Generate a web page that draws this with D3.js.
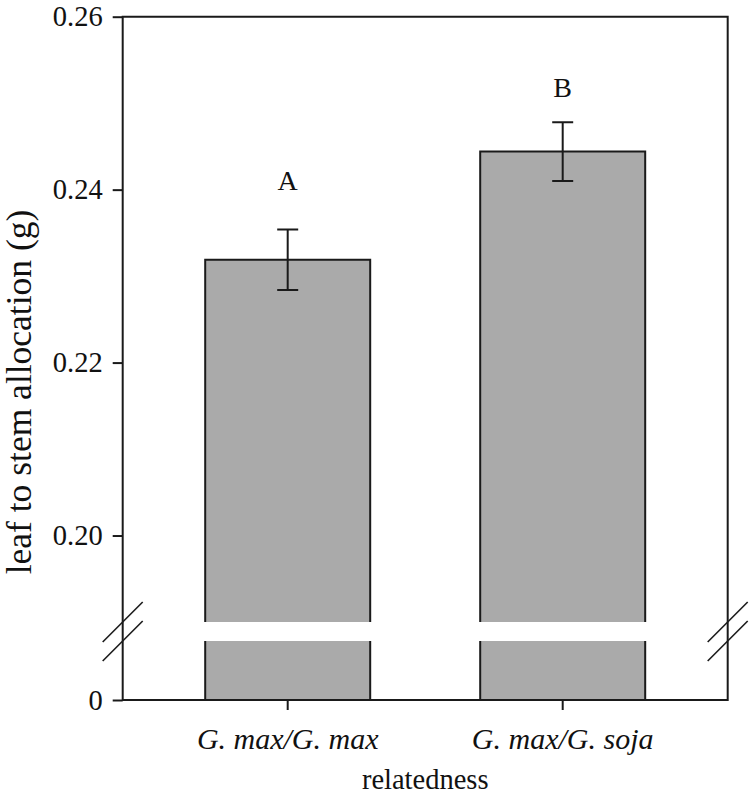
<!DOCTYPE html>
<html><head><meta charset="utf-8">
<script src="https://cdn.jsdelivr.net/npm/d3@7"></script>
<style>body{margin:0;background:#fff}svg{display:block}text{font-family:"Liberation Serif","Times New Roman",serif;fill:#111}</style>
</head><body>
<svg id="c" width="754" height="798"></svg>
<script>
const categories = ["G. max/G. max", "G. max/G. soja"];
const means = [0.2319, 0.2444];
const errors = [0.0035, 0.0034];
const letters = ["A", "B"];
const letterPos = [0.2400, 0.2507];
const upperTicks = [0.20, 0.22, 0.24, 0.26];
const lowerTicks = [0];
const upperDomain = [0.19, 0.26];
const lowerDomain = [0, 0.007];

const svg = d3.select("#c");
const L = 122.7, R = 727.7, T = 16.7, B = 700;
const breakTop = 622, breakBot = 641;
const ink = "#1a1a1a";

const x = d3.scaleBand().domain(categories).range([L, R]).paddingInner(0.4).paddingOuter(0.3);
const yU = d3.scaleLinear().domain(upperDomain).range([breakTop, T]);
const yL = d3.scaleLinear().domain(lowerDomain).range([B, breakBot]);

// bars
const g = svg.append("g");
categories.forEach((c, i) => {
  const x0 = x(c), w = x.bandwidth();
  g.append("rect").attr("x", x0).attr("y", yU(means[i])).attr("width", w)
    .attr("height", yU(upperDomain[0]) - yU(means[i])).attr("fill", "#aaaaaa");
  g.append("path").attr("d", `M${x0},${yU(upperDomain[0])}V${yU(means[i])}H${x0 + w}V${yU(upperDomain[0])}`)
    .attr("fill", "none").attr("stroke", ink).attr("stroke-width", 2);
  g.append("rect").attr("x", x0).attr("y", yL(lowerDomain[1])).attr("width", w)
    .attr("height", yL(0) - yL(lowerDomain[1])).attr("fill", "#aaaaaa");
  g.append("path").attr("d", `M${x0},${yL(lowerDomain[1])}V${yL(0)}M${x0 + w},${yL(lowerDomain[1])}V${yL(0)}`)
    .attr("fill", "none").attr("stroke", ink).attr("stroke-width", 2);
  const cx = x0 + w / 2;
  const hi = yU(means[i] + errors[i]), lo = yU(means[i] - errors[i]);
  g.append("path").attr("d", `M${cx},${hi}V${lo}M${cx - 10.5},${hi}H${cx + 10.5}M${cx - 10.5},${lo}H${cx + 10.5}`)
    .attr("fill", "none").attr("stroke", ink).attr("stroke-width", 2);
  g.append("text").attr("x", cx).attr("y", yU(letterPos[i])).attr("text-anchor", "middle")
    .attr("font-size", 28).text(letters[i]);
});

// axes
const fmt = d3.format(".2f");
const leftU = svg.append("g").attr("transform", `translate(${L},0)`)
  .call(d3.axisLeft(yU).tickValues(upperTicks).tickFormat(fmt).tickSize(10).tickPadding(10));
const leftL = svg.append("g").attr("transform", `translate(${L},0)`)
  .call(d3.axisLeft(yL).tickValues(lowerTicks).tickFormat(d3.format("d")).tickSize(10).tickPadding(10));
const bottom = svg.append("g").attr("transform", `translate(0,${B})`)
  .call(d3.axisBottom(x).tickSize(10).tickPadding(12));
[leftU, leftL].forEach(a => {
  a.select(".domain").remove();
  a.selectAll(".tick line").attr("stroke", ink).attr("stroke-width", 2);
  a.selectAll("text").attr("font-family", '"Liberation Serif",serif').attr("font-size", 28.5).attr("fill", "#111");
});
bottom.select(".domain").remove();
bottom.selectAll(".tick line").attr("stroke", ink).attr("stroke-width", 2);
bottom.selectAll(".tick text").attr("font-family", '"Liberation Serif",serif').attr("font-size", 30)
  .attr("fill", "#111").attr("font-style", "italic").attr("dy", "0.9em");
// frame
svg.append("path").attr("d", `M${L},${T}H${R}V${B}H${L}Z`)
  .attr("fill", "none").attr("stroke", ink).attr("stroke-width", 2);

// break marks
[L, R].forEach(ax => {
  [breakTop, breakBot].forEach(by => {
    svg.append("line").attr("x1", ax - 20).attr("y1", by + 20).attr("x2", ax + 20).attr("y2", by - 20)
      .attr("stroke", ink).attr("stroke-width", 1.6);
  });
});

// titles
svg.append("text").attr("x", (L + R) / 2).attr("y", 789).attr("text-anchor", "middle")
  .attr("font-size", 28.5).text("relatedness");
svg.append("text").attr("transform", `translate(30.5,392) rotate(-90)`)
  .attr("text-anchor", "middle").attr("font-size", 35.5).text("leaf to stem allocation (g)");
</script>
</body></html>
